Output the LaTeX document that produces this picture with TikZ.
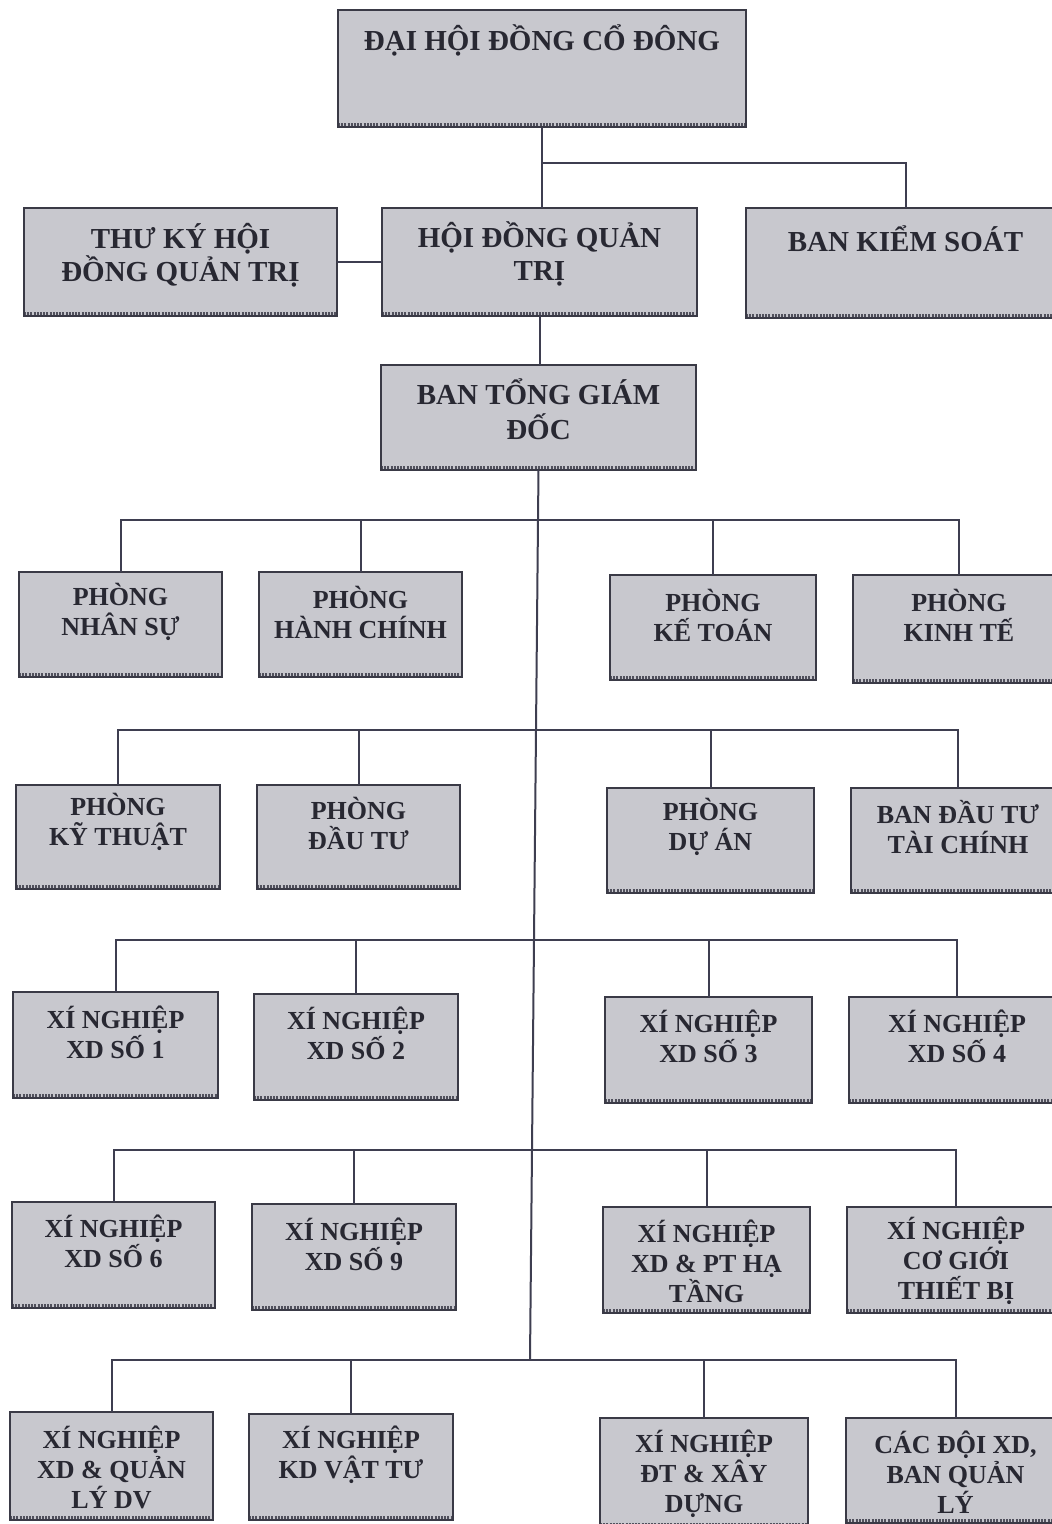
\documentclass[tikz,border=0pt]{standalone}
\usepackage{fontspec}
\setmainfont{Liberation Serif}
\definecolor{boxfill}{RGB}{200,200,206}
\definecolor{boxline}{RGB}{58,58,70}
\definecolor{bandcol}{RGB}{80,80,92}
\definecolor{linecol}{RGB}{62,62,80}
\definecolor{txt}{RGB}{40,40,50}
\tikzset{
  unitbox/.style={draw=boxline, line width=1.5pt, fill=boxfill, inner sep=0pt, outer sep=0pt,
    path picture={\draw[line width=8pt, draw=bandcol, dash pattern=on 2pt off 1.2pt]
      (path picture bounding box.south west) -- (path picture bounding box.south east);}},
  bigtext/.style={font=\bfseries\fontsize{29}{33}\selectfont, text=txt, align=center, inner sep=0pt},
  midtext/.style={font=\bfseries\fontsize{29}{35}\selectfont, text=txt, align=center, inner sep=0pt},
  smalltext/.style={font=\bfseries\fontsize{26}{30}\selectfont, text=txt, align=center, inner sep=0pt},
  link/.style={draw=linecol, line width=2pt}
}
% #1 name, #2 x1, #3 y1, #4 x2, #5 y2, #6 text style, #7 text centre y, #8 text
\newcommand\orgunit[8]{%
  \node[unitbox, minimum width={#4-#2}, minimum height={#5-#3}] (#1) at ({(#2+#4)/2},{(#3+#5)/2}) {};
  \node[#6] (#1-t) at ({(#2+#4)/2},#7) {#8};}
\begin{document}
\begin{tikzpicture}[x=1pt,y=-1pt]
\useasboundingbox (0,0) rectangle (1052,1524);
\fill[white] (0,0) rectangle (1052,1524);

% top levels
\orgunit{dh}{338}{10}{746}{127}{bigtext}{40}{ĐẠI HỘI ĐỒNG CỔ ĐÔNG}
\orgunit{tk}{24}{208}{337}{316}{bigtext}{255}{THƯ KÝ HỘI\\ĐỒNG QUẢN TRỊ}
\orgunit{hd}{382}{208}{697}{316}{bigtext}{254}{HỘI ĐỒNG QUẢN\\TRỊ}
\orgunit{bks}{746}{208}{1065}{318}{bigtext}{239}{BAN KIỂM SOÁT}
\orgunit{tgd}{381}{365}{696}{470}{midtext}{409}{BAN TỔNG GIÁM\\ĐỐC}

% row A
\orgunit{a1}{19}{572}{222}{677}{smalltext}{612}{PHÒNG\\NHÂN SỰ}
\orgunit{a2}{259}{572}{462}{677}{smalltext}{612}{PHÒNG\\HÀNH CHÍNH}
\orgunit{a3}{610}{575}{816}{680}{smalltext}{615}{PHÒNG\\KẾ TOÁN}
\orgunit{a4}{853}{575}{1065}{683}{smalltext}{615}{PHÒNG\\KINH TẾ}
% row B
\orgunit{b1}{16}{785}{220}{889}{smalltext}{822}{PHÒNG\\KỸ THUẬT}
\orgunit{b2}{257}{785}{460}{889}{smalltext}{823}{PHÒNG\\ĐẦU TƯ}
\orgunit{b3}{607}{788}{814}{893}{smalltext}{827}{PHÒNG\\DỰ ÁN}
\orgunit{b4}{851}{788}{1065}{893}{smalltext}{827}{BAN ĐẦU TƯ\\TÀI CHÍNH}
% row C
\orgunit{c1}{13}{992}{218}{1098}{smalltext}{1032}{XÍ NGHIỆP\\XD SỐ 1}
\orgunit{c2}{254}{994}{458}{1100}{smalltext}{1033}{XÍ NGHIỆP\\XD SỐ 2}
\orgunit{c3}{605}{997}{812}{1103}{smalltext}{1036}{XÍ NGHIỆP\\XD SỐ 3}
\orgunit{c4}{849}{997}{1065}{1103}{smalltext}{1036}{XÍ NGHIỆP\\XD SỐ 4}
% row D
\orgunit{d1}{12}{1202}{215}{1308}{smalltext}{1241}{XÍ NGHIỆP\\XD SỐ 6}
\orgunit{d2}{252}{1204}{456}{1310}{smalltext}{1244}{XÍ NGHIỆP\\XD SỐ 9}
\orgunit{d3}{603}{1207}{810}{1313}{smalltext}{1261}{XÍ NGHIỆP\\XD \& PT HẠ\\TẦNG}
\orgunit{d4}{847}{1207}{1065}{1313}{smalltext}{1261}{XÍ NGHIỆP\\CƠ GIỚI\\THIẾT BỊ}
% row E
\orgunit{e1}{10}{1412}{213}{1520}{smalltext}{1467}{XÍ NGHIỆP\\XD \& QUẢN\\LÝ DV}
\orgunit{e2}{249}{1414}{453}{1520}{smalltext}{1455}{XÍ NGHIỆP\\KD VẬT TƯ}
\orgunit{e3}{600}{1418}{808}{1527}{smalltext}{1474}{XÍ NGHIỆP\\ĐT \& XÂY\\DỰNG}
\orgunit{e4}{846}{1418}{1065}{1523}{smalltext}{1472}{CÁC ĐỘI XD,\\BAN QUẢN\\LÝ}

% connectors, top part
\coordinate (k) at (541,163);
\draw[link] (dh.south) -- (dh.south |- hd.north);
\draw[link] (k) -| (bks.north);
\draw[link] (tk.east) -- (hd.west);
\draw[link] (hd.south) -- (hd.south |- tgd.north);

% trunk
\coordinate (jA) at (538,520);
\coordinate (jB) at (536,730);
\coordinate (jC) at (534,940);
\coordinate (jD) at (532,1150);
\coordinate (jE) at (530,1360);
\draw[link] (tgd.south) -- (jA) -- (jB) -- (jC) -- (jD) -- (jE);

\foreach \r/\j in {a/jA,b/jB,c/jC,d/jD,e/jE}{
  \foreach \i in {1,2,3,4}{
    \draw[link] (\j) -| (\r\i.north);
  }
}
\end{tikzpicture}
\end{document}
